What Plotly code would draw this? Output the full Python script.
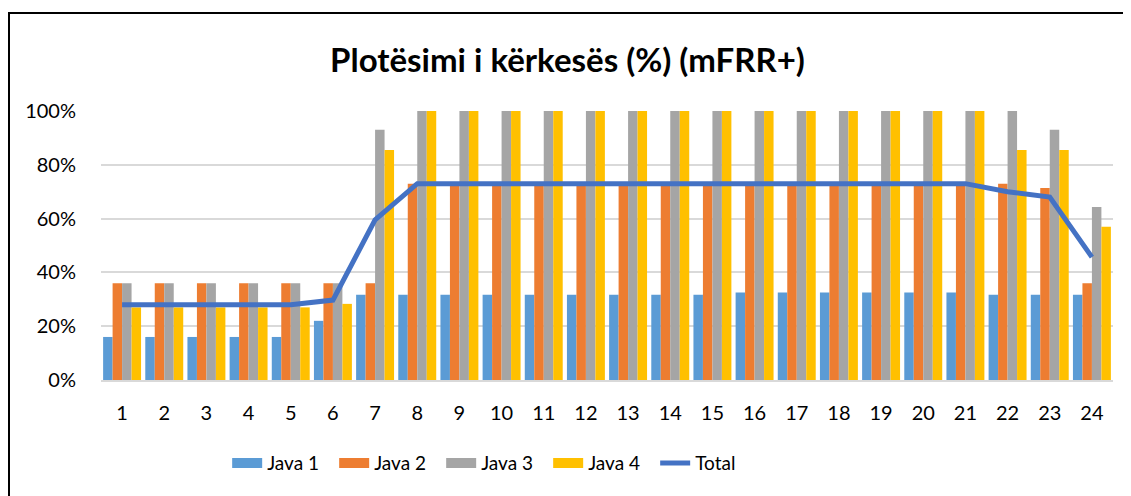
import plotly.graph_objects as go

hours = [str(h) for h in range(1, 25)]
java1 = [0.16]*5 + [0.22] + [0.317]*9 + [0.325]*6 + [0.317]*3
java2 = [0.36]*7 + [0.73]*15 + [0.714, 0.36]
java3 = [0.36]*6 + [0.93] + [1.0]*15 + [0.93, 0.643]
java4 = [0.27]*5 + [0.283, 0.855] + [1.0]*14 + [0.855, 0.855, 0.57]
total = [0.28]*5 + [0.297, 0.595] + [0.73]*14 + [0.70, 0.68, 0.457]

series = [("Java 1", java1, "#5B9BD5"), ("Java 2", java2, "#ED7D31"),
          ("Java 3", java3, "#A5A5A5"), ("Java 4", java4, "#FFC000")]

font = "Lato, Calibri, sans-serif"
fig = go.Figure()
for name, vals, col in series:
    fig.add_trace(go.Bar(x=hours, y=vals, name=name, legendgroup=name, showlegend=False,
                         marker=dict(color=col, line=dict(width=0))))
# legend swatches (wide rectangles like the original)
for name, vals, col in series:
    fig.add_trace(go.Scatter(x=[None], y=[None], name=name, legendgroup=name, mode="lines",
                             line=dict(color=col, width=13)))
fig.add_trace(go.Scatter(x=hours, y=total, name="Total", mode="lines",
                         line=dict(color="#4472C4", width=5)))

# the page body adds an 8px offset; positions below are compensated
fig.update_layout(
    width=1131, height=496,
    margin=dict(l=93, r=26, t=103, b=124),
    paper_bgcolor="white", plot_bgcolor="white",
    barmode="group", bargap=0.1, bargroupgap=0,
    font=dict(family=font, size=16, color="#000000"),
    title=dict(text="<b>Plotësimi i kërkesës (%) (mFRR+)</b>", x=559.5/1131, xanchor="center",
               y=1 - 52/496, yanchor="middle", font=dict(size=33, color="#000000", family=font)),
    legend=dict(orientation="h", x=0.389, xanchor="center", y=-0.309, yanchor="middle",
                font=dict(size=19, color="#000000"), traceorder="normal",
                entrywidth=62, entrywidthmode="pixels"),
    xaxis=dict(showgrid=False, showline=True, linecolor="#D9D9D9", linewidth=1.5,
               ticks="outside", ticklen=14, tickcolor="rgba(0,0,0,0)",
               tickfont=dict(size=20, color="#000000")),
    yaxis=dict(range=[0, 1.0], tickvals=[0, 0.2, 0.4, 0.6, 0.8, 1.0],
               ticktext=["0%", "20%", "40%", "60%", "80%", "100%"],
               showgrid=True, gridcolor="#D9D9D9", gridwidth=1.5, zeroline=False,
               ticks="outside", ticklen=20, tickcolor="rgba(0,0,0,0)",
               tickfont=dict(size=20, color="#000000")),
    shapes=[dict(type="rect", xref="paper", yref="paper",
                 x0=(1-93)/1012, x1=(1145-93)/1012,
                 y0=(372-520)/269, y1=(372-5)/269,
                 line=dict(color="black", width=2), fillcolor="rgba(0,0,0,0)", layer="below")],
)
fig.write_html("out.html")
